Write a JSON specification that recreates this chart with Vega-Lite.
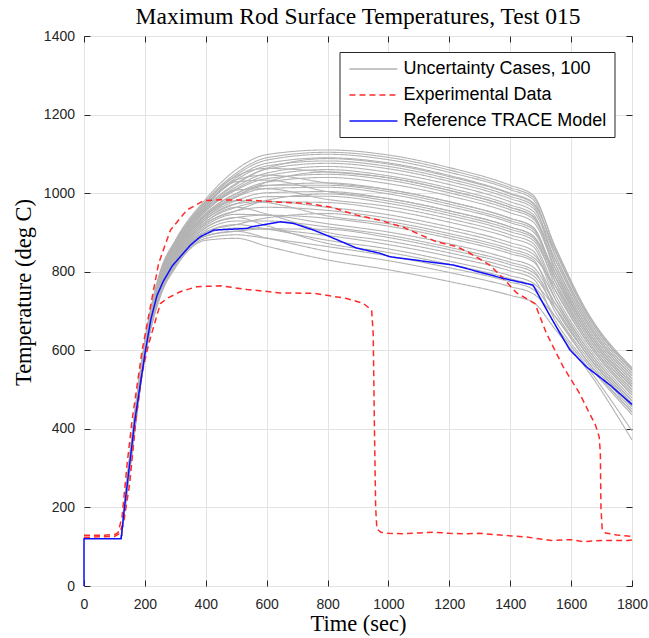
{
 "$schema": "https://vega.github.io/schema/vega-lite/v6.json",
 "width": 548, "height": 550,
 "autosize": "none",
 "padding": {"left": 84, "top": 36, "right": 17, "bottom": 52},
 "background": "white",
 "title": {"text": "Maximum Rod Surface Temperatures, Test 015", "font": "Liberation Serif", "fontSize": 23.5, "fontWeight": "normal", "color": "#000000", "anchor": "middle", "offset": 1},
 "config": {
  "view": {"stroke": "#262626", "strokeWidth": 1},
  "axis": {"domain": false, "tickColor": "#262626", "tickSize": -6, "tickWidth": 1, "gridColor": "#e3e3e3", "gridWidth": 1, "labelFont": "Liberation Sans", "labelFontSize": 14, "labelColor": "#262626", "labelFlush": false, "titleFont": "Liberation Serif", "titleFontSize": 22.5, "titleFontWeight": "normal", "titleColor": "#000000"},
  "legend": {"orient": "none", "legendX": 255.5, "legendY": 16, "strokeColor": "#262626", "fillColor": "white", "padding": 7, "labelFont": "Liberation Sans", "labelFontSize": 18, "labelColor": "#000000", "symbolType": "M-0.78,0H4.55", "symbolSize": 324, "symbolStrokeWidth": 1.5, "labelOffset": 37, "rowPadding": 7, "labelLimit": 400}
 },
 "resolve": {"axis": {"x": "independent", "y": "independent"}},
 "layer": [
  {
   "data": {"values": [
{"c":1,"t":122,"v":120},{"c":1,"t":150,"v":290},{"c":1,"t":200,"v":580},{"c":1,"t":250,"v":735},{"c":1,"t":300,"v":810},{"c":1,"t":400,"v":880},{"c":1,"t":500,"v":885},{"c":1,"t":600,"v":865},{"c":1,"t":800,"v":830},{"c":1,"t":1000,"v":805},{"c":1,"t":1200,"v":775},{"c":1,"t":1400,"v":740},{"c":1,"t":1475,"v":722},{"c":1,"t":1550,"v":651},{"c":1,"t":1650,"v":553},{"c":1,"t":1800,"v":372},
{"c":2,"t":122,"v":120},{"c":2,"t":150,"v":292},{"c":2,"t":200,"v":582},{"c":2,"t":250,"v":738},{"c":2,"t":300,"v":814},{"c":2,"t":400,"v":885},{"c":2,"t":500,"v":894},{"c":2,"t":600,"v":885},{"c":2,"t":800,"v":864},{"c":2,"t":1000,"v":840},{"c":2,"t":1200,"v":810},{"c":2,"t":1400,"v":774},{"c":2,"t":1475,"v":755},{"c":2,"t":1550,"v":662},{"c":2,"t":1650,"v":561},{"c":2,"t":1800,"v":395},
{"c":3,"t":122,"v":120},{"c":3,"t":150,"v":294},{"c":3,"t":200,"v":585},{"c":3,"t":250,"v":742},{"c":3,"t":300,"v":817},{"c":3,"t":400,"v":891},{"c":3,"t":500,"v":903},{"c":3,"t":600,"v":886},{"c":3,"t":800,"v":852},{"c":3,"t":1000,"v":828},{"c":3,"t":1200,"v":798},{"c":3,"t":1400,"v":762},{"c":3,"t":1475,"v":744},{"c":3,"t":1550,"v":684},{"c":3,"t":1650,"v":576},{"c":3,"t":1800,"v":443},
{"c":4,"t":122,"v":120},{"c":4,"t":150,"v":296},{"c":4,"t":200,"v":587},{"c":4,"t":250,"v":745},{"c":4,"t":300,"v":821},{"c":4,"t":400,"v":896},{"c":4,"t":500,"v":911},{"c":4,"t":600,"v":908},{"c":4,"t":800,"v":892},{"c":4,"t":1000,"v":869},{"c":4,"t":1200,"v":839},{"c":4,"t":1400,"v":802},{"c":4,"t":1475,"v":782},{"c":4,"t":1550,"v":673},{"c":4,"t":1650,"v":569},{"c":4,"t":1800,"v":436},
{"c":5,"t":122,"v":120},{"c":5,"t":150,"v":298},{"c":5,"t":200,"v":589},{"c":5,"t":250,"v":748},{"c":5,"t":300,"v":824},{"c":5,"t":400,"v":901},{"c":5,"t":500,"v":920},{"c":5,"t":600,"v":909},{"c":5,"t":800,"v":880},{"c":5,"t":1000,"v":858},{"c":5,"t":1200,"v":827},{"c":5,"t":1400,"v":790},{"c":5,"t":1475,"v":771},{"c":5,"t":1550,"v":706},{"c":5,"t":1650,"v":592},{"c":5,"t":1800,"v":457},
{"c":6,"t":122,"v":120},{"c":6,"t":150,"v":300},{"c":6,"t":200,"v":591},{"c":6,"t":250,"v":751},{"c":6,"t":300,"v":828},{"c":6,"t":400,"v":906},{"c":6,"t":500,"v":929},{"c":6,"t":600,"v":929},{"c":6,"t":800,"v":914},{"c":6,"t":1000,"v":893},{"c":6,"t":1200,"v":862},{"c":6,"t":1400,"v":824},{"c":6,"t":1475,"v":804},{"c":6,"t":1550,"v":695},{"c":6,"t":1650,"v":584},{"c":6,"t":1800,"v":450},
{"c":7,"t":122,"v":120},{"c":7,"t":150,"v":302},{"c":7,"t":200,"v":594},{"c":7,"t":250,"v":755},{"c":7,"t":300,"v":831},{"c":7,"t":400,"v":912},{"c":7,"t":500,"v":938},{"c":7,"t":600,"v":944},{"c":7,"t":800,"v":936},{"c":7,"t":1000,"v":916},{"c":7,"t":1200,"v":885},{"c":7,"t":1400,"v":846},{"c":7,"t":1475,"v":826},{"c":7,"t":1550,"v":728},{"c":7,"t":1650,"v":608},{"c":7,"t":1800,"v":471},
{"c":8,"t":122,"v":120},{"c":8,"t":150,"v":304},{"c":8,"t":200,"v":596},{"c":8,"t":250,"v":758},{"c":8,"t":300,"v":835},{"c":8,"t":400,"v":917},{"c":8,"t":500,"v":946},{"c":8,"t":600,"v":944},{"c":8,"t":800,"v":922},{"c":8,"t":1000,"v":901},{"c":8,"t":1200,"v":871},{"c":8,"t":1400,"v":832},{"c":8,"t":1475,"v":812},{"c":8,"t":1550,"v":717},{"c":8,"t":1650,"v":600},{"c":8,"t":1800,"v":464},
{"c":9,"t":122,"v":120},{"c":9,"t":150,"v":306},{"c":9,"t":200,"v":598},{"c":9,"t":250,"v":761},{"c":9,"t":300,"v":838},{"c":9,"t":400,"v":922},{"c":9,"t":500,"v":955},{"c":9,"t":600,"v":964},{"c":9,"t":800,"v":956},{"c":9,"t":1000,"v":936},{"c":9,"t":1200,"v":906},{"c":9,"t":1400,"v":866},{"c":9,"t":1475,"v":845},{"c":9,"t":1550,"v":750},{"c":9,"t":1650,"v":624},{"c":9,"t":1800,"v":486},
{"c":10,"t":122,"v":120},{"c":10,"t":150,"v":308},{"c":10,"t":200,"v":600},{"c":10,"t":250,"v":764},{"c":10,"t":300,"v":842},{"c":10,"t":400,"v":927},{"c":10,"t":500,"v":964},{"c":10,"t":600,"v":978},{"c":10,"t":800,"v":976},{"c":10,"t":1000,"v":957},{"c":10,"t":1200,"v":926},{"c":10,"t":1400,"v":886},{"c":10,"t":1475,"v":864},{"c":10,"t":1550,"v":739},{"c":10,"t":1650,"v":616},{"c":10,"t":1800,"v":478},
{"c":11,"t":122,"v":120},{"c":11,"t":150,"v":310},{"c":11,"t":200,"v":603},{"c":11,"t":250,"v":768},{"c":11,"t":300,"v":845},{"c":11,"t":400,"v":933},{"c":11,"t":500,"v":973},{"c":11,"t":600,"v":991},{"c":11,"t":800,"v":992},{"c":11,"t":1000,"v":974},{"c":11,"t":1200,"v":943},{"c":11,"t":1400,"v":902},{"c":11,"t":1475,"v":880},{"c":11,"t":1550,"v":772},{"c":11,"t":1650,"v":639},{"c":11,"t":1800,"v":500},
{"c":12,"t":122,"v":120},{"c":12,"t":150,"v":312},{"c":12,"t":200,"v":605},{"c":12,"t":250,"v":771},{"c":12,"t":300,"v":849},{"c":12,"t":400,"v":938},{"c":12,"t":500,"v":981},{"c":12,"t":600,"v":1001},{"c":12,"t":800,"v":1004},{"c":12,"t":1000,"v":986},{"c":12,"t":1200,"v":955},{"c":12,"t":1400,"v":914},{"c":12,"t":1475,"v":891},{"c":12,"t":1550,"v":761},{"c":12,"t":1650,"v":631},{"c":12,"t":1800,"v":493},
{"c":13,"t":122,"v":120},{"c":13,"t":150,"v":314},{"c":13,"t":200,"v":607},{"c":13,"t":250,"v":774},{"c":13,"t":300,"v":852},{"c":13,"t":400,"v":943},{"c":13,"t":500,"v":990},{"c":13,"t":600,"v":1012},{"c":13,"t":800,"v":1015},{"c":13,"t":1000,"v":998},{"c":13,"t":1200,"v":966},{"c":13,"t":1400,"v":925},{"c":13,"t":1475,"v":902},{"c":13,"t":1550,"v":794},{"c":13,"t":1650,"v":655},{"c":13,"t":1800,"v":514},
{"c":14,"t":122,"v":120},{"c":14,"t":150,"v":315},{"c":14,"t":200,"v":608},{"c":14,"t":250,"v":775},{"c":14,"t":300,"v":853},{"c":14,"t":400,"v":945},{"c":14,"t":500,"v":994},{"c":14,"t":600,"v":1019},{"c":14,"t":800,"v":1026},{"c":14,"t":1000,"v":1009},{"c":14,"t":1200,"v":978},{"c":14,"t":1400,"v":936},{"c":14,"t":1475,"v":913},{"c":14,"t":1550,"v":783},{"c":14,"t":1650,"v":647},{"c":14,"t":1800,"v":507},
{"c":15,"t":122,"v":120},{"c":15,"t":150,"v":316},{"c":15,"t":200,"v":609},{"c":15,"t":250,"v":777},{"c":15,"t":300,"v":856},{"c":15,"t":400,"v":948},{"c":15,"t":500,"v":999},{"c":15,"t":600,"v":1028},{"c":15,"t":800,"v":1040},{"c":15,"t":1000,"v":1024},{"c":15,"t":1200,"v":993},{"c":15,"t":1400,"v":950},{"c":15,"t":1475,"v":927},{"c":15,"t":1550,"v":805},{"c":15,"t":1650,"v":663},{"c":15,"t":1800,"v":521},
{"c":16,"t":122,"v":120},{"c":16,"t":150,"v":318},{"c":16,"t":200,"v":612},{"c":16,"t":250,"v":781},{"c":16,"t":300,"v":859},{"c":16,"t":400,"v":954},{"c":16,"t":500,"v":1008},{"c":16,"t":600,"v":1037},{"c":16,"t":800,"v":1048},{"c":16,"t":1000,"v":1033},{"c":16,"t":1200,"v":1001},{"c":16,"t":1400,"v":958},{"c":16,"t":1475,"v":935},{"c":16,"t":1550,"v":816},{"c":16,"t":1650,"v":671},{"c":16,"t":1800,"v":528},
{"c":17,"t":122,"v":120},{"c":17,"t":150,"v":319},{"c":17,"t":200,"v":612},{"c":17,"t":250,"v":782},{"c":17,"t":300,"v":860},{"c":17,"t":400,"v":956},{"c":17,"t":500,"v":1011},{"c":17,"t":600,"v":1044},{"c":17,"t":800,"v":1060},{"c":17,"t":1000,"v":1044},{"c":17,"t":1200,"v":1013},{"c":17,"t":1400,"v":970},{"c":17,"t":1475,"v":946},{"c":17,"t":1550,"v":794},{"c":17,"t":1650,"v":655},{"c":17,"t":1800,"v":514},
{"c":18,"t":122,"v":120},{"c":18,"t":150,"v":320},{"c":18,"t":200,"v":614},{"c":18,"t":250,"v":784},{"c":18,"t":300,"v":863},{"c":18,"t":400,"v":959},{"c":18,"t":500,"v":1016},{"c":18,"t":600,"v":1051},{"c":18,"t":800,"v":1068},{"c":18,"t":1000,"v":1053},{"c":18,"t":1200,"v":1022},{"c":18,"t":1400,"v":978},{"c":18,"t":1475,"v":954},{"c":18,"t":1550,"v":827},{"c":18,"t":1650,"v":678},{"c":18,"t":1800,"v":535},
{"c":19,"t":122,"v":120},{"c":19,"t":150,"v":322},{"c":19,"t":200,"v":616},{"c":19,"t":250,"v":787},{"c":19,"t":300,"v":866},{"c":19,"t":400,"v":964},{"c":19,"t":500,"v":1025},{"c":19,"t":600,"v":1061},{"c":19,"t":800,"v":1076},{"c":19,"t":1000,"v":1062},{"c":19,"t":1200,"v":1030},{"c":19,"t":1400,"v":986},{"c":19,"t":1475,"v":962},{"c":19,"t":1550,"v":838},{"c":19,"t":1650,"v":686},{"c":19,"t":1800,"v":542},
{"c":20,"t":122,"v":120},{"c":20,"t":150,"v":324},{"c":20,"t":200,"v":618},{"c":20,"t":250,"v":790},{"c":20,"t":300,"v":870},{"c":20,"t":400,"v":969},{"c":20,"t":500,"v":1034},{"c":20,"t":600,"v":1069},{"c":20,"t":800,"v":1082},{"c":20,"t":1000,"v":1068},{"c":20,"t":1200,"v":1036},{"c":20,"t":1400,"v":992},{"c":20,"t":1475,"v":968},{"c":20,"t":1550,"v":816},{"c":20,"t":1650,"v":671},{"c":20,"t":1800,"v":528},
{"c":21,"t":122,"v":120},{"c":21,"t":150,"v":325},{"c":21,"t":200,"v":620},{"c":21,"t":250,"v":792},{"c":21,"t":300,"v":872},{"c":21,"t":400,"v":972},{"c":21,"t":500,"v":1039},{"c":21,"t":600,"v":1076},{"c":21,"t":800,"v":1090},{"c":21,"t":1000,"v":1077},{"c":21,"t":1200,"v":1045},{"c":21,"t":1400,"v":1000},{"c":21,"t":1475,"v":976},{"c":21,"t":1550,"v":849},{"c":21,"t":1650,"v":694},{"c":21,"t":1800,"v":549},
{"c":22,"t":122,"v":120},{"c":22,"t":150,"v":327},{"c":22,"t":200,"v":621},{"c":22,"t":250,"v":795},{"c":22,"t":300,"v":874},{"c":22,"t":400,"v":977},{"c":22,"t":500,"v":1046},{"c":22,"t":600,"v":1084},{"c":22,"t":800,"v":1099},{"c":22,"t":1000,"v":1085},{"c":22,"t":1200,"v":1053},{"c":22,"t":1400,"v":1009},{"c":22,"t":1475,"v":984},{"c":22,"t":1550,"v":838},{"c":22,"t":1650,"v":686},{"c":22,"t":1800,"v":542},
{"c":23,"t":122,"v":120},{"c":23,"t":150,"v":328},{"c":23,"t":200,"v":623},{"c":23,"t":250,"v":797},{"c":23,"t":300,"v":877},{"c":23,"t":400,"v":980},{"c":23,"t":500,"v":1051},{"c":23,"t":600,"v":1090},{"c":23,"t":800,"v":1104},{"c":23,"t":1000,"v":1091},{"c":23,"t":1200,"v":1059},{"c":23,"t":1400,"v":1014},{"c":23,"t":1475,"v":990},{"c":23,"t":1550,"v":860},{"c":23,"t":1650,"v":702},{"c":23,"t":1800,"v":556},
{"c":24,"t":122,"v":120},{"c":24,"t":150,"v":330},{"c":24,"t":200,"v":625},{"c":24,"t":250,"v":800},{"c":24,"t":300,"v":880},{"c":24,"t":400,"v":985},{"c":24,"t":500,"v":1060},{"c":24,"t":600,"v":1098},{"c":24,"t":800,"v":1110},{"c":24,"t":1000,"v":1097},{"c":24,"t":1200,"v":1065},{"c":24,"t":1400,"v":1020},{"c":24,"t":1475,"v":995},{"c":24,"t":1550,"v":856},{"c":24,"t":1650,"v":699},{"c":24,"t":1800,"v":553},
{"c":25,"t":122,"v":120},{"c":25,"t":150,"v":302},{"c":25,"t":200,"v":594},{"c":25,"t":250,"v":755},{"c":25,"t":300,"v":831},{"c":25,"t":400,"v":912},{"c":25,"t":500,"v":938},{"c":25,"t":600,"v":917},{"c":25,"t":800,"v":872},{"c":25,"t":1000,"v":849},{"c":25,"t":1200,"v":819},{"c":25,"t":1400,"v":782},{"c":25,"t":1475,"v":763},{"c":25,"t":1550,"v":684},{"c":25,"t":1650,"v":576},{"c":25,"t":1800,"v":443},
{"c":26,"t":122,"v":120},{"c":26,"t":150,"v":312},{"c":26,"t":200,"v":605},{"c":26,"t":250,"v":771},{"c":26,"t":300,"v":849},{"c":26,"t":400,"v":938},{"c":26,"t":500,"v":981},{"c":26,"t":600,"v":976},{"c":26,"t":800,"v":942},{"c":26,"t":1000,"v":922},{"c":26,"t":1200,"v":891},{"c":26,"t":1400,"v":852},{"c":26,"t":1475,"v":831},{"c":26,"t":1550,"v":706},{"c":26,"t":1650,"v":592},{"c":26,"t":1800,"v":457},
{"c":27,"t":122,"v":120},{"c":27,"t":150,"v":318},{"c":27,"t":200,"v":612},{"c":27,"t":250,"v":781},{"c":27,"t":300,"v":859},{"c":27,"t":400,"v":954},{"c":27,"t":500,"v":1008},{"c":27,"t":600,"v":1011},{"c":27,"t":800,"v":984},{"c":27,"t":1000,"v":966},{"c":27,"t":1200,"v":935},{"c":27,"t":1400,"v":894},{"c":27,"t":1475,"v":872},{"c":27,"t":1550,"v":750},{"c":27,"t":1650,"v":624},{"c":27,"t":1800,"v":486},
{"c":28,"t":122,"v":120},{"c":28,"t":150,"v":324},{"c":28,"t":200,"v":618},{"c":28,"t":250,"v":790},{"c":28,"t":300,"v":870},{"c":28,"t":400,"v":969},{"c":28,"t":500,"v":1034},{"c":28,"t":600,"v":1046},{"c":28,"t":800,"v":1026},{"c":28,"t":1000,"v":1009},{"c":28,"t":1200,"v":978},{"c":28,"t":1400,"v":936},{"c":28,"t":1475,"v":913},{"c":28,"t":1550,"v":783},{"c":28,"t":1650,"v":647},{"c":28,"t":1800,"v":507},
{"c":29,"t":122,"v":120},{"c":29,"t":150,"v":294},{"c":29,"t":200,"v":585},{"c":29,"t":250,"v":742},{"c":29,"t":300,"v":817},{"c":29,"t":400,"v":891},{"c":29,"t":500,"v":903},{"c":29,"t":600,"v":909},{"c":29,"t":800,"v":908},{"c":29,"t":1000,"v":887},{"c":29,"t":1200,"v":856},{"c":29,"t":1400,"v":818},{"c":29,"t":1475,"v":798},{"c":29,"t":1550,"v":717},{"c":29,"t":1650,"v":600},{"c":29,"t":1800,"v":464},
{"c":30,"t":122,"v":120},{"c":30,"t":150,"v":306},{"c":30,"t":200,"v":598},{"c":30,"t":250,"v":761},{"c":30,"t":300,"v":838},{"c":30,"t":400,"v":922},{"c":30,"t":500,"v":955},{"c":30,"t":600,"v":982},{"c":30,"t":800,"v":998},{"c":30,"t":1000,"v":980},{"c":30,"t":1200,"v":949},{"c":30,"t":1400,"v":908},{"c":30,"t":1475,"v":886},{"c":30,"t":1550,"v":783},{"c":30,"t":1650,"v":647},{"c":30,"t":1800,"v":507},
{"c":31,"t":122,"v":120},{"c":31,"t":150,"v":314},{"c":31,"t":200,"v":607},{"c":31,"t":250,"v":774},{"c":31,"t":300,"v":852},{"c":31,"t":400,"v":943},{"c":31,"t":500,"v":990},{"c":31,"t":600,"v":1028},{"c":31,"t":800,"v":1054},{"c":31,"t":1000,"v":1039},{"c":31,"t":1200,"v":1007},{"c":31,"t":1400,"v":964},{"c":31,"t":1475,"v":940},{"c":31,"t":1550,"v":827},{"c":31,"t":1650,"v":678},{"c":31,"t":1800,"v":535},
{"c":32,"t":122,"v":120},{"c":32,"t":150,"v":321},{"c":32,"t":200,"v":615},{"c":32,"t":250,"v":786},{"c":32,"t":300,"v":865},{"c":32,"t":400,"v":962},{"c":32,"t":500,"v":1022},{"c":32,"t":600,"v":1063},{"c":32,"t":800,"v":1088},{"c":32,"t":1000,"v":1074},{"c":32,"t":1200,"v":1042},{"c":32,"t":1400,"v":998},{"c":32,"t":1475,"v":973},{"c":32,"t":1550,"v":849},{"c":32,"t":1650,"v":694},{"c":32,"t":1800,"v":549},
{"c":33,"t":122,"v":120},{"c":33,"t":150,"v":310},{"c":33,"t":200,"v":603},{"c":33,"t":250,"v":768},{"c":33,"t":300,"v":845},{"c":33,"t":400,"v":933},{"c":33,"t":500,"v":973},{"c":33,"t":600,"v":979},{"c":33,"t":800,"v":964},{"c":33,"t":1000,"v":945},{"c":33,"t":1200,"v":914},{"c":33,"t":1400,"v":874},{"c":33,"t":1475,"v":853},{"c":33,"t":1550,"v":728},{"c":33,"t":1650,"v":608},{"c":33,"t":1800,"v":471},
{"c":34,"t":122,"v":120},{"c":34,"t":150,"v":326},{"c":34,"t":200,"v":620},{"c":34,"t":250,"v":794},{"c":34,"t":300,"v":873},{"c":34,"t":400,"v":975},{"c":34,"t":500,"v":1043},{"c":34,"t":600,"v":1063},{"c":34,"t":800,"v":1054},{"c":34,"t":1000,"v":1039},{"c":34,"t":1200,"v":1007},{"c":34,"t":1400,"v":964},{"c":34,"t":1475,"v":940},{"c":34,"t":1550,"v":805},{"c":34,"t":1650,"v":663},{"c":34,"t":1800,"v":521},
{"c":35,"t":122,"v":120},{"c":35,"t":150,"v":298},{"c":35,"t":200,"v":589},{"c":35,"t":250,"v":748},{"c":35,"t":300,"v":824},{"c":35,"t":400,"v":901},{"c":35,"t":500,"v":920},{"c":35,"t":600,"v":937},{"c":35,"t":800,"v":948},{"c":35,"t":1000,"v":928},{"c":35,"t":1200,"v":897},{"c":35,"t":1400,"v":858},{"c":35,"t":1475,"v":837},{"c":35,"t":1550,"v":761},{"c":35,"t":1650,"v":631},{"c":35,"t":1800,"v":493},
{"c":36,"t":122,"v":120},{"c":36,"t":150,"v":316},{"c":36,"t":200,"v":609},{"c":36,"t":250,"v":777},{"c":36,"t":300,"v":856},{"c":36,"t":400,"v":948},{"c":36,"t":500,"v":999},{"c":36,"t":600,"v":1020},{"c":36,"t":800,"v":1020},{"c":36,"t":1000,"v":1004},{"c":36,"t":1200,"v":972},{"c":36,"t":1400,"v":930},{"c":36,"t":1475,"v":908},{"c":36,"t":1550,"v":772},{"c":36,"t":1650,"v":639},{"c":36,"t":1800,"v":500},
{"c":37,"t":122,"v":120},{"c":37,"t":150,"v":308},{"c":37,"t":200,"v":600},{"c":37,"t":250,"v":764},{"c":37,"t":300,"v":842},{"c":37,"t":400,"v":927},{"c":37,"t":500,"v":964},{"c":37,"t":600,"v":947},{"c":37,"t":800,"v":900},{"c":37,"t":1000,"v":878},{"c":37,"t":1200,"v":848},{"c":37,"t":1400,"v":810},{"c":37,"t":1475,"v":790},{"c":37,"t":1550,"v":706},{"c":37,"t":1650,"v":592},{"c":37,"t":1800,"v":457},
{"c":38,"t":122,"v":120},{"c":38,"t":150,"v":323},{"c":38,"t":200,"v":617},{"c":38,"t":250,"v":788},{"c":38,"t":300,"v":867},{"c":38,"t":400,"v":966},{"c":38,"t":500,"v":1029},{"c":38,"t":600,"v":1033},{"c":38,"t":800,"v":1004},{"c":38,"t":1000,"v":986},{"c":38,"t":1200,"v":955},{"c":38,"t":1400,"v":914},{"c":38,"t":1475,"v":891},{"c":38,"t":1550,"v":794},{"c":38,"t":1650,"v":655},{"c":38,"t":1800,"v":514}
   ]},
   "mark": {"type": "line", "strokeWidth": 1.1, "interpolate": "monotone"},
   "encoding": {
    "x": {"field": "t", "type": "quantitative", "scale": {"domain": [0, 1800], "nice": false},
          "axis": {"orient": "bottom", "values": [0,200,400,600,800,1000,1200,1400,1600,1800], "format": "d", "title": "Time (sec)", "grid": true, "labelPadding": 17, "titleX": 274, "titleY": 37, "titleBaseline": "middle"}},
    "y": {"field": "v", "type": "quantitative", "scale": {"domain": [0, 1400], "nice": false},
          "axis": {"orient": "left", "values": [0,200,400,600,800,1000,1200,1400], "format": "d", "title": "Temperature (deg C)", "grid": true, "labelPadding": 15.5, "titleX": -61, "titleY": 256, "titleAngle": -90, "titleBaseline": "middle", "titleAlign": "center"}},
    "detail": {"field": "c", "type": "nominal"},
    "color": {"datum": "Uncertainty Cases, 100", "type": "nominal",
              "scale": {"domain": ["Uncertainty Cases, 100", "Experimental Data", "Reference TRACE Model"], "range": ["#b3b3b3", "#ff2a2a", "#1010ff"]},
              "legend": {"title": null}},
    "strokeDash": {"datum": "Uncertainty Cases, 100", "type": "nominal",
              "scale": {"domain": ["Uncertainty Cases, 100", "Experimental Data", "Reference TRACE Model"], "range": [[1, 0], [6, 4], [1, 0]]},
              "legend": {"title": null}}
   }
  },
  {
   "data": {"values": [
{"id":"a","t":0,"v":129},{"id":"a","t":60,"v":129},{"id":"a","t":100,"v":131},{"id":"a","t":112,"v":136},{"id":"a","t":125,"v":176},{"id":"a","t":142,"v":313},{"id":"a","t":158,"v":422},{"id":"a","t":191,"v":600},{"id":"a","t":245,"v":821},{"id":"a","t":284,"v":906},{"id":"a","t":338,"v":957},{"id":"a","t":393,"v":981},{"id":"a","t":450,"v":983},{"id":"a","t":550,"v":982},{"id":"a","t":645,"v":977},{"id":"a","t":732,"v":974},{"id":"a","t":808,"v":965},{"id":"a","t":896,"v":944},{"id":"a","t":972,"v":931},{"id":"a","t":1049,"v":913},{"id":"a","t":1158,"v":876},{"id":"a","t":1224,"v":864},{"id":"a","t":1268,"v":847},{"id":"a","t":1333,"v":817},{"id":"a","t":1377,"v":783},{"id":"a","t":1420,"v":747},{"id":"a","t":1470,"v":724},{"id":"a","t":1481,"v":719},{"id":"a","t":1519,"v":643},{"id":"a","t":1574,"v":558},{"id":"a","t":1628,"v":490},{"id":"a","t":1660,"v":440},{"id":"a","t":1680,"v":410},{"id":"a","t":1692,"v":380},{"id":"a","t":1696,"v":340},{"id":"a","t":1698,"v":200},{"id":"a","t":1702,"v":145},{"id":"a","t":1713,"v":135},{"id":"a","t":1750,"v":130},{"id":"a","t":1800,"v":126},
{"id":"b","t":0,"v":124},{"id":"b","t":100,"v":126},{"id":"b","t":115,"v":133},{"id":"b","t":130,"v":160},{"id":"b","t":150,"v":260},{"id":"b","t":170,"v":420},{"id":"b","t":190,"v":540},{"id":"b","t":213,"v":618},{"id":"b","t":251,"v":719},{"id":"b","t":273,"v":732},{"id":"b","t":316,"v":749},{"id":"b","t":371,"v":762},{"id":"b","t":448,"v":764},{"id":"b","t":535,"v":755},{"id":"b","t":645,"v":746},{"id":"b","t":754,"v":745},{"id":"b","t":863,"v":732},{"id":"b","t":918,"v":719},{"id":"b","t":945,"v":702},{"id":"b","t":950,"v":640},{"id":"b","t":954,"v":400},{"id":"b","t":958,"v":200},{"id":"b","t":962,"v":145},{"id":"b","t":975,"v":137},{"id":"b","t":1000,"v":134},{"id":"b","t":1050,"v":133},{"id":"b","t":1100,"v":135},{"id":"b","t":1150,"v":137},{"id":"b","t":1200,"v":134},{"id":"b","t":1250,"v":133},{"id":"b","t":1300,"v":134},{"id":"b","t":1377,"v":129},{"id":"b","t":1450,"v":125},{"id":"b","t":1534,"v":116},{"id":"b","t":1600,"v":118},{"id":"b","t":1640,"v":113},{"id":"b","t":1700,"v":116},{"id":"b","t":1786,"v":116},{"id":"b","t":1800,"v":117}
   ]},
   "mark": {"type": "line", "strokeWidth": 1.5},
   "encoding": {
    "x": {"field": "t", "type": "quantitative", "axis": {"orient": "top", "values": [0,200,400,600,800,1000,1200,1400,1600,1800], "labels": false, "grid": false, "title": null}},
    "y": {"field": "v", "type": "quantitative", "axis": {"orient": "right", "values": [0,200,400,600,800,1000,1200,1400], "labels": false, "grid": false, "title": null}},
    "detail": {"field": "id", "type": "nominal"},
    "color": {"datum": "Experimental Data", "type": "nominal"},
    "strokeDash": {"datum": "Experimental Data", "type": "nominal"}
   }
  },
  {
   "data": {"values": [
{"t":0,"v":0},{"t":0,"v":120},{"t":122,"v":120},{"t":133,"v":200},{"t":150,"v":311},{"t":167,"v":422},{"t":202,"v":600},{"t":220,"v":680},{"t":240,"v":740},{"t":260,"v":775},{"t":290,"v":815},{"t":316,"v":838},{"t":350,"v":868},{"t":382,"v":889},{"t":426,"v":906},{"t":535,"v":910},{"t":548,"v":914},{"t":645,"v":927},{"t":688,"v":923},{"t":754,"v":906},{"t":808,"v":889},{"t":896,"v":860},{"t":972,"v":847},{"t":1005,"v":838},{"t":1213,"v":817},{"t":1377,"v":783},{"t":1475,"v":766},{"t":1508,"v":719},{"t":1557,"v":652},{"t":1596,"v":601},{"t":1650,"v":558},{"t":1727,"v":512},{"t":1800,"v":462}
   ]},
   "mark": {"type": "line", "strokeWidth": 1.5},
   "encoding": {
    "x": {"field": "t", "type": "quantitative", "axis": null},
    "y": {"field": "v", "type": "quantitative", "axis": null},
    "color": {"datum": "Reference TRACE Model", "type": "nominal"},
    "strokeDash": {"datum": "Reference TRACE Model", "type": "nominal"}
   }
  }
 ]
}
